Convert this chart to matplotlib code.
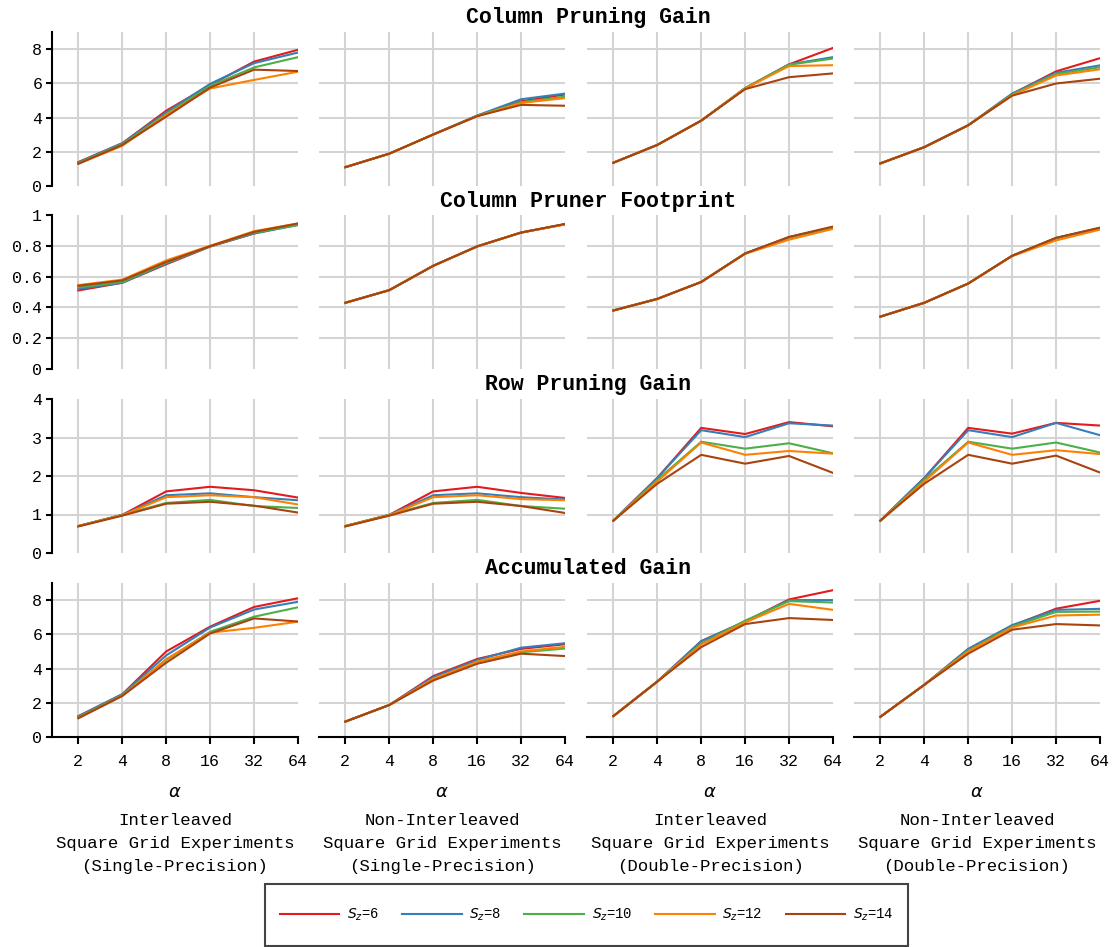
import matplotlib
matplotlib.use('Agg')
import matplotlib.pyplot as plt
from matplotlib.patches import Rectangle

# ---------------- data ----------------
alpha_labels = ['2', '4', '8', '16', '32', '64']
sz_labels = [r'$S_z$=6', r'$S_z$=8', r'$S_z$=10', r'$S_z$=12', r'$S_z$=14']
colors = ['#e41a1c', '#377eb8', '#4daf4a', '#ff7f00', '#a8430f']

row_titles = ['Column Pruning Gain', 'Column Pruner Footprint',
              'Row Pruning Gain', 'Accumulated Gain']
col_titles = [['Interleaved', 'Square Grid Experiments', '(Single-Precision)'],
              ['Non-Interleaved', 'Square Grid Experiments', '(Single-Precision)'],
              ['Interleaved', 'Square Grid Experiments', '(Double-Precision)'],
              ['Non-Interleaved', 'Square Grid Experiments', '(Double-Precision)']]

# Column pruning gain  (rows: Sz=6,8,10,12,14 ; cols: alpha=2..64)
colgain_int_sp = [[1.40, 2.50, 4.40, 5.90, 7.27, 7.96],
                  [1.38, 2.50, 4.30, 5.97, 7.18, 7.80],
                  [1.35, 2.45, 4.20, 5.85, 6.93, 7.53],
                  [1.30, 2.35, 4.15, 5.70, 6.20, 6.68],
                  [1.30, 2.40, 4.05, 5.75, 6.80, 6.72]]
colgain_non_sp = [[1.10, 1.89, 3.01, 4.10, 4.95, 5.35],
                  [1.10, 1.89, 3.01, 4.12, 5.07, 5.40],
                  [1.10, 1.89, 3.01, 4.10, 4.90, 5.22],
                  [1.10, 1.89, 3.01, 4.08, 4.85, 5.14],
                  [1.10, 1.89, 3.01, 4.08, 4.74, 4.69]]
colgain_int_dp = [[1.36, 2.40, 3.82, 5.71, 7.11, 8.07],
                  [1.36, 2.40, 3.82, 5.71, 7.11, 7.53],
                  [1.36, 2.40, 3.82, 5.73, 7.09, 7.45],
                  [1.36, 2.40, 3.82, 5.70, 7.01, 7.06],
                  [1.36, 2.40, 3.82, 5.66, 6.36, 6.58]]
colgain_non_dp = [[1.32, 2.27, 3.55, 5.38, 6.70, 7.47],
                  [1.32, 2.27, 3.55, 5.40, 6.62, 7.05],
                  [1.32, 2.27, 3.55, 5.35, 6.55, 6.94],
                  [1.32, 2.27, 3.55, 5.30, 6.46, 6.82],
                  [1.32, 2.27, 3.55, 5.28, 5.99, 6.27]]

# Column pruner footprint
foot_int_sp = [[0.510, 0.560, 0.680, 0.795, 0.880, 0.940],
               [0.520, 0.560, 0.685, 0.797, 0.880, 0.935],
               [0.530, 0.565, 0.690, 0.797, 0.885, 0.935],
               [0.545, 0.580, 0.705, 0.800, 0.895, 0.945],
               [0.540, 0.575, 0.695, 0.798, 0.890, 0.945]]
foot_non_sp = [[0.430, 0.512, 0.670, 0.796, 0.886, 0.940],
               [0.430, 0.512, 0.670, 0.796, 0.886, 0.940],
               [0.430, 0.512, 0.670, 0.796, 0.886, 0.940],
               [0.430, 0.512, 0.670, 0.796, 0.886, 0.938],
               [0.430, 0.512, 0.670, 0.796, 0.886, 0.942]]
foot_int_dp = [[0.380, 0.455, 0.565, 0.750, 0.855, 0.920],
               [0.380, 0.455, 0.565, 0.750, 0.855, 0.920],
               [0.380, 0.455, 0.565, 0.750, 0.855, 0.920],
               [0.380, 0.455, 0.565, 0.748, 0.840, 0.910],
               [0.380, 0.455, 0.565, 0.750, 0.858, 0.925]]
foot_non_dp = [[0.340, 0.430, 0.555, 0.735, 0.850, 0.915],
               [0.340, 0.430, 0.555, 0.735, 0.850, 0.915],
               [0.340, 0.430, 0.555, 0.735, 0.850, 0.915],
               [0.340, 0.430, 0.555, 0.733, 0.835, 0.905],
               [0.340, 0.430, 0.555, 0.735, 0.852, 0.918]]

# Row pruning gain
rowgain_int_sp = [[0.70, 0.99, 1.60, 1.72, 1.63, 1.44],
                  [0.70, 0.99, 1.50, 1.55, 1.45, 1.37],
                  [0.70, 0.99, 1.30, 1.38, 1.22, 1.17],
                  [0.70, 0.98, 1.45, 1.50, 1.45, 1.26],
                  [0.69, 0.97, 1.28, 1.33, 1.23, 1.05]]
rowgain_non_sp = [[0.70, 0.99, 1.60, 1.72, 1.56, 1.43],
                  [0.70, 0.99, 1.50, 1.55, 1.45, 1.39],
                  [0.70, 0.99, 1.30, 1.38, 1.22, 1.15],
                  [0.70, 0.98, 1.45, 1.50, 1.40, 1.37],
                  [0.69, 0.97, 1.28, 1.33, 1.22, 1.04]]
rowgain_int_dp = [[0.84, 1.95, 3.25, 3.09, 3.40, 3.29],
                  [0.84, 1.95, 3.19, 3.01, 3.37, 3.31],
                  [0.84, 1.90, 2.89, 2.71, 2.85, 2.59],
                  [0.84, 1.86, 2.87, 2.55, 2.65, 2.58],
                  [0.84, 1.80, 2.55, 2.32, 2.52, 2.08]]
rowgain_non_dp = [[0.84, 1.95, 3.25, 3.10, 3.38, 3.31],
                  [0.84, 1.95, 3.19, 3.01, 3.38, 3.06],
                  [0.84, 1.90, 2.89, 2.71, 2.87, 2.61],
                  [0.84, 1.86, 2.87, 2.55, 2.67, 2.57],
                  [0.84, 1.80, 2.55, 2.32, 2.53, 2.09]]

# Accumulated gain
accgain_int_sp = [[1.22, 2.50, 5.00, 6.45, 7.60, 8.11],
                  [1.20, 2.50, 4.77, 6.40, 7.45, 7.90],
                  [1.15, 2.45, 4.50, 6.15, 7.03, 7.58],
                  [1.10, 2.40, 4.55, 6.10, 6.38, 6.74],
                  [1.10, 2.40, 4.34, 6.05, 6.93, 6.75]]
accgain_non_sp = [[0.90, 1.87, 3.56, 4.56, 5.15, 5.42],
                  [0.90, 1.87, 3.50, 4.50, 5.22, 5.48],
                  [0.90, 1.87, 3.35, 4.40, 4.95, 5.17],
                  [0.90, 1.87, 3.40, 4.40, 5.00, 5.27],
                  [0.90, 1.87, 3.30, 4.28, 4.87, 4.73]]
accgain_int_dp = [[1.22, 3.24, 5.60, 6.75, 8.04, 8.58],
                  [1.22, 3.24, 5.60, 6.75, 8.00, 8.00],
                  [1.22, 3.24, 5.45, 6.80, 7.94, 7.86],
                  [1.22, 3.24, 5.40, 6.70, 7.78, 7.43],
                  [1.22, 3.24, 5.25, 6.60, 6.95, 6.84]]
accgain_non_dp = [[1.18, 3.05, 5.13, 6.50, 7.50, 7.96],
                  [1.18, 3.05, 5.15, 6.54, 7.43, 7.49],
                  [1.18, 3.05, 5.05, 6.45, 7.31, 7.33],
                  [1.18, 3.05, 5.00, 6.40, 7.10, 7.15],
                  [1.18, 3.05, 4.87, 6.27, 6.60, 6.52]]

grid_data = [[colgain_int_sp, colgain_non_sp, colgain_int_dp, colgain_non_dp],
             [foot_int_sp, foot_non_sp, foot_int_dp, foot_non_dp],
             [rowgain_int_sp, rowgain_non_sp, rowgain_int_dp, rowgain_non_dp],
             [accgain_int_sp, accgain_non_sp, accgain_int_dp, accgain_non_dp]]

row_ylims = [(0, 9), (0, 1), (0, 4), (0, 9)]
row_yticks = [[0, 2, 4, 6, 8], [0, 0.2, 0.4, 0.6, 0.8, 1], [0, 1, 2, 3, 4], [0, 2, 4, 6, 8]]

# ---------------- layout ----------------
MONO = 'Liberation Mono'
plt.rcParams['font.family'] = [MONO, 'DejaVu Sans']
W, H = 1116, 947
fig = plt.figure(figsize=(W / 100, H / 100), dpi=100)

col_left = [52, 319, 587, 854]
ax_w = 246
row_top = [32, 215, 399, 583]
ax_h = 154
grid_color = '#d4d4d4'

xs = list(range(len(alpha_labels)))
legend_handles = None
for r in range(4):
    for c in range(4):
        ax = fig.add_axes([col_left[c] / W, 1 - (row_top[r] + ax_h) / H, ax_w / W, ax_h / H])
        ax.set_xlim(-0.6, len(xs) - 1)
        ax.set_ylim(*row_ylims[r])
        ymax = row_ylims[r][1]
        for xi in xs[:-1]:
            ax.axvline(xi, color=grid_color, lw=1.5, zorder=0)
        for yv in row_yticks[r]:
            if 0 < yv < ymax:
                ax.axhline(yv, color=grid_color, lw=1.5, zorder=0)
        hs = []
        for s in range(5):
            h, = ax.plot(xs, grid_data[r][c][s], color=colors[s], lw=1.5,
                         label=sz_labels[s], zorder=2 + s)
            hs.append(h)
        legend_handles = hs
        for sp in ['top', 'right']:
            ax.spines[sp].set_visible(False)
        ax.spines['left'].set_visible(c == 0)
        ax.spines['bottom'].set_visible(r == 3)
        ax.spines['left'].set_linewidth(1.5)
        ax.spines['bottom'].set_linewidth(1.5)
        ax.set_yticks(row_yticks[r])
        ax.set_yticklabels(['{:g}'.format(v) for v in row_yticks[r]])
        ax.set_xticks(xs)
        ax.set_xticklabels(alpha_labels)
        ax.tick_params(axis='y', left=(c == 0), labelleft=(c == 0), length=4,
                       width=1.5, labelsize=12, pad=3)
        ax.tick_params(axis='x', bottom=(r == 3), labelbottom=(r == 3), length=5,
                       width=1.5, labelsize=12, pad=7)
        for lab in ax.get_xticklabels() + ax.get_yticklabels():
            lab.set_fontfamily(MONO)
        if r == 3:
            cx = (col_left[c] + ax_w / 2) / W
            fig.text(cx, 1 - 792 / H, r'$\alpha$', ha='center', va='center', fontsize=13)
            for li, line in enumerate(col_titles[c]):
                fig.text(cx, 1 - (820 + 23 * li) / H, line, ha='center', va='center',
                         fontsize=12.5, family=MONO)

title_y = [18, 201, 384, 568]
for r in range(4):
    fig.text(588 / W, 1 - title_y[r] / H, row_titles[r], ha='center', va='center',
             fontsize=15.5, fontweight='bold', family=MONO)

leg = fig.legend(handles=legend_handles, labels=sz_labels, loc='center',
                 bbox_to_anchor=(586.5 / W, 1 - 915 / H), ncol=5, frameon=False,
                 fontsize=10, handlelength=4.3, handletextpad=0.55,
                 columnspacing=1.65, borderpad=0.3, borderaxespad=0)
for t in leg.get_texts():
    t.set_fontfamily(MONO)
fig.patches.append(Rectangle((265 / W, 1 - 946 / H), 643 / W, 62 / H,
                             transform=fig.transFigure, fill=False,
                             edgecolor='#444444', lw=1.5))

fig.savefig('out.png', dpi=100)
